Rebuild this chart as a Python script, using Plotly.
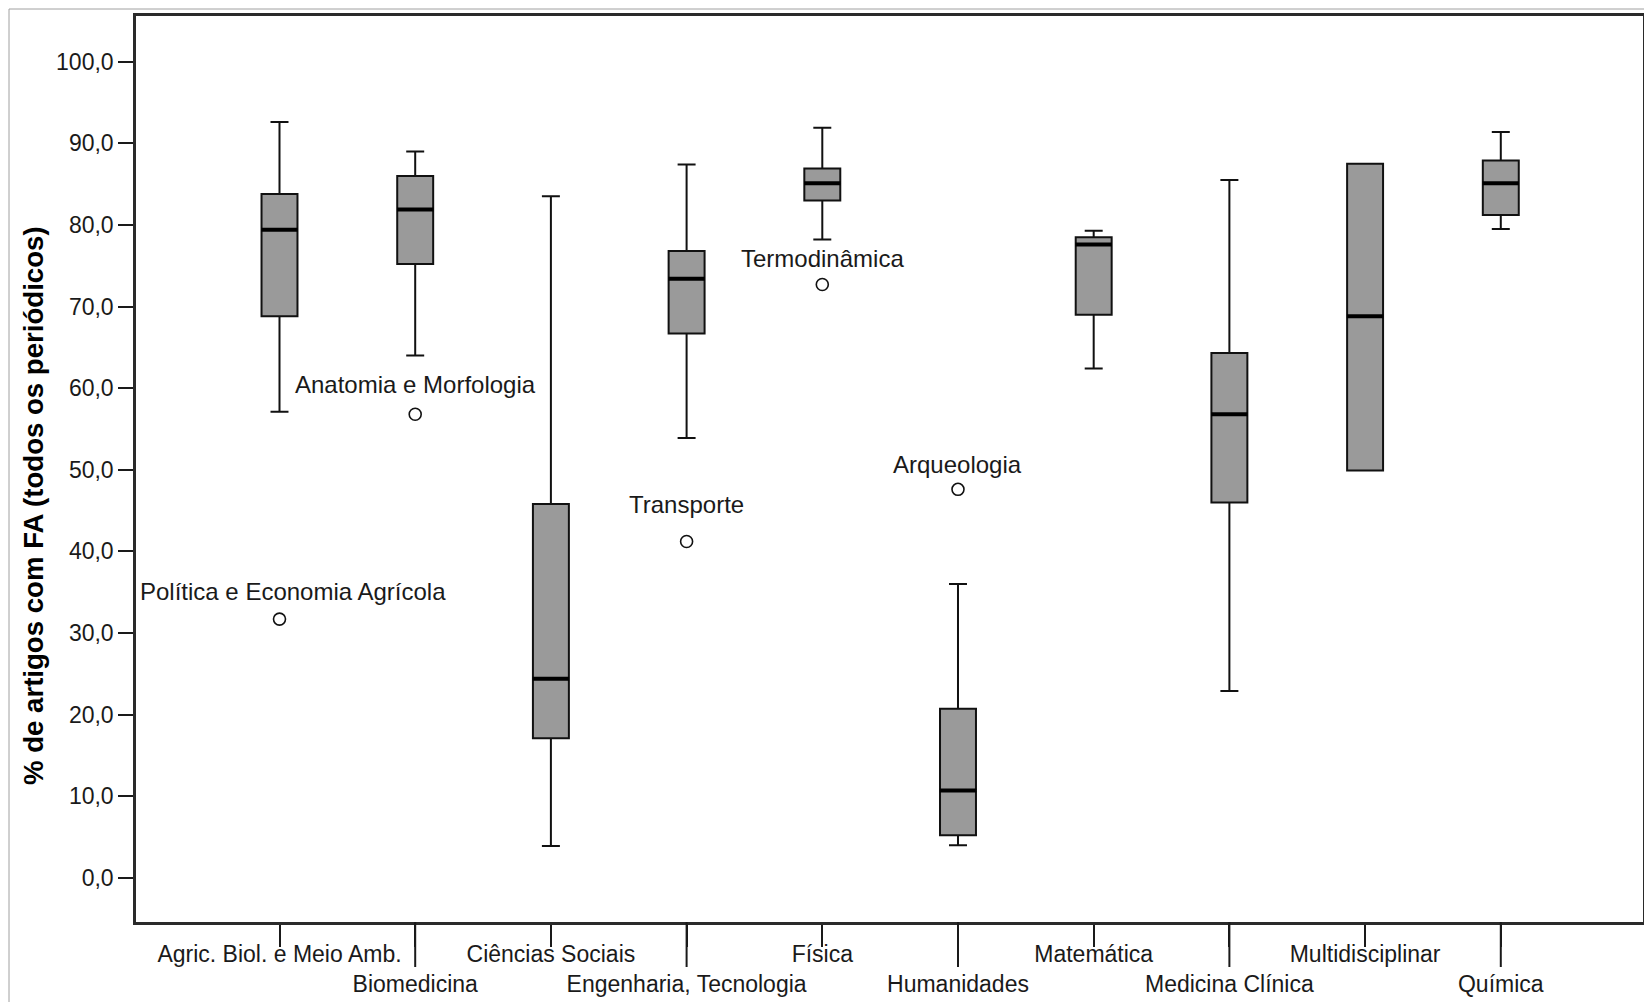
import plotly.graph_objects as go

# ---------------- data ----------------
categories = ["Agric. Biol. e Meio Amb.", "Biomedicina", "Ciências Sociais",
              "Engenharia, Tecnologia", "Física", "Humanidades", "Matemática",
              "Medicina Clínica", "Multidisciplinar", "Química"]
lower_whisker = [57.1, 64.0, 3.9, 53.9, 78.2, 4.0, 62.4, 22.9, 49.9, 79.5]
q1 = [68.8, 75.2, 17.1, 66.7, 83.0, 5.2, 69.0, 46.0, 49.9, 81.2]
median = [79.4, 81.9, 24.4, 73.4, 85.1, 10.7, 77.6, 56.8, 68.8, 85.1]
q3 = [83.8, 86.0, 45.8, 76.8, 86.9, 20.7, 78.5, 64.3, 87.5, 87.9]
upper_whisker = [92.6, 89.0, 83.5, 87.4, 91.9, 36.0, 79.3, 85.5, 87.5, 91.4]

outlier_category = ["Agric. Biol. e Meio Amb.", "Biomedicina", "Engenharia, Tecnologia",
                    "Física", "Humanidades"]
outlier_value = [31.7, 56.8, 41.2, 72.7, 47.6]
outlier_label = ["Política e Economia Agrícola", "Anatomia e Morfologia", "Transporte",
                 "Termodinâmica", "Arqueologia"]

y_ticks = [0, 10, 20, 30, 40, 50, 60, 70, 80, 90, 100]
y_title = "% de artigos com FA (todos os periódicos)"

# ---------------- layout constants (page pixels) ----------------
W, H = 1652, 1002
OFF = 8                      # default body margin of the html page
PL, PR, PT, PB = 136, 1643, 16, 922
FONT = "Liberation Sans, Arial, sans-serif"
INK = "#1a1a1a"

label_shift_y = [28, 30, 37, 26, 25]
label_shift_x = [13, 0, 0, 0, 0]


def px_x(p):
    return (p - PL) / (PR - PL)


def px_y(p):
    return (PB - p) / (PB - PT)


fig = go.Figure()

fig.add_trace(go.Box(
    x=categories, q1=q1, median=median, q3=q3,
    lowerfence=lower_whisker, upperfence=upper_whisker,
    fillcolor="#9a9a9a", line=dict(color="#111111", width=2),
    width=0.265, whiskerwidth=0.5, boxpoints=False, hoverinfo="skip",
))

# thicker median lines
fig.add_trace(go.Scatter(
    x=categories, y=median, mode="markers",
    marker=dict(symbol="line-ew", size=26, color="#000000",
                line=dict(color="#000000", width=4)),
    hoverinfo="skip",
))

# outliers
fig.add_trace(go.Scatter(
    x=outlier_category, y=outlier_value, mode="markers",
    marker=dict(symbol="circle-open", size=12, color="#111111",
                line=dict(color="#111111", width=1.6)),
    hoverinfo="skip",
))

annotations = []
for c, v, t, dy, dx in zip(outlier_category, outlier_value, outlier_label,
                           label_shift_y, label_shift_x):
    annotations.append(dict(
        x=c, y=v, xref="x", yref="y", text=t, showarrow=False,
        xanchor="center", yanchor="middle", yshift=dy, xshift=dx,
        font=dict(family=FONT, size=24, color=INK),
    ))

annotations.append(dict(
    x=px_x(33), y=px_y(506), xref="paper", yref="paper", text="<b>" + y_title + "</b>",
    showarrow=False, textangle=-90, xanchor="center", yanchor="middle",
    font=dict(family=FONT, size=27.6, color="#000000"),
))

# staggered tick labels
tick_text = [c if i % 2 == 0 else "<br>" + c for i, c in enumerate(categories)]

shapes = []
for i, c in enumerate(categories):
    if i % 2 == 1:
        shapes.append(dict(
            type="line", xref="x", yref="paper", x0=c, x1=c,
            ysizemode="pixel", yanchor=0, y0=0, y1=-45,
            line=dict(color=INK, width=2),
        ))

# outer page border (thin gray)
shapes.append(dict(type="line", xref="paper", yref="paper",
                   x0=px_x(9), x1=px_x(W), y0=px_y(OFF + 1), y1=px_y(OFF + 1),
                   line=dict(color="#a0a0a0", width=1)))
shapes.append(dict(type="line", xref="paper", yref="paper",
                   x0=px_x(9), x1=px_x(9), y0=px_y(OFF + 1), y1=px_y(H),
                   line=dict(color="#a0a0a0", width=1)))

fig.update_layout(
    width=W - OFF, height=H - OFF, autosize=False,
    margin=dict(l=PL - OFF, r=W - PR, t=PT - OFF, b=H - PB, pad=0),
    paper_bgcolor="white", plot_bgcolor="white",
    showlegend=False, separators=",.",
    annotations=annotations, shapes=shapes,
    font=dict(family=FONT, color=INK),
)

fig.update_xaxes(
    type="category", categoryorder="array", categoryarray=categories,
    range=[-1.0575, 10.048], automargin=False,
    tickmode="array", tickvals=categories, ticktext=tick_text, tickangle=0,
    ticks="outside", ticklen=22, tickwidth=2, tickcolor=INK,
    ticklabelstandoff=-12,
    tickfont=dict(family=FONT, size=23, color=INK),
    showline=True, mirror=True, linecolor="#2a2a2a", linewidth=2.5,
    showgrid=False, zeroline=False,
)

fig.update_yaxes(
    range=[-5.42, 105.6], automargin=False,
    tickmode="array", tickvals=y_ticks, tickformat=".1f",
    ticks="outside", ticklen=15, tickwidth=2, tickcolor=INK,
    tickfont=dict(family=FONT, size=23, color=INK),
    showline=True, mirror=True, linecolor="#2a2a2a", linewidth=2.5,
    showgrid=False, zeroline=False,
)

fig.write_html("out.html")
